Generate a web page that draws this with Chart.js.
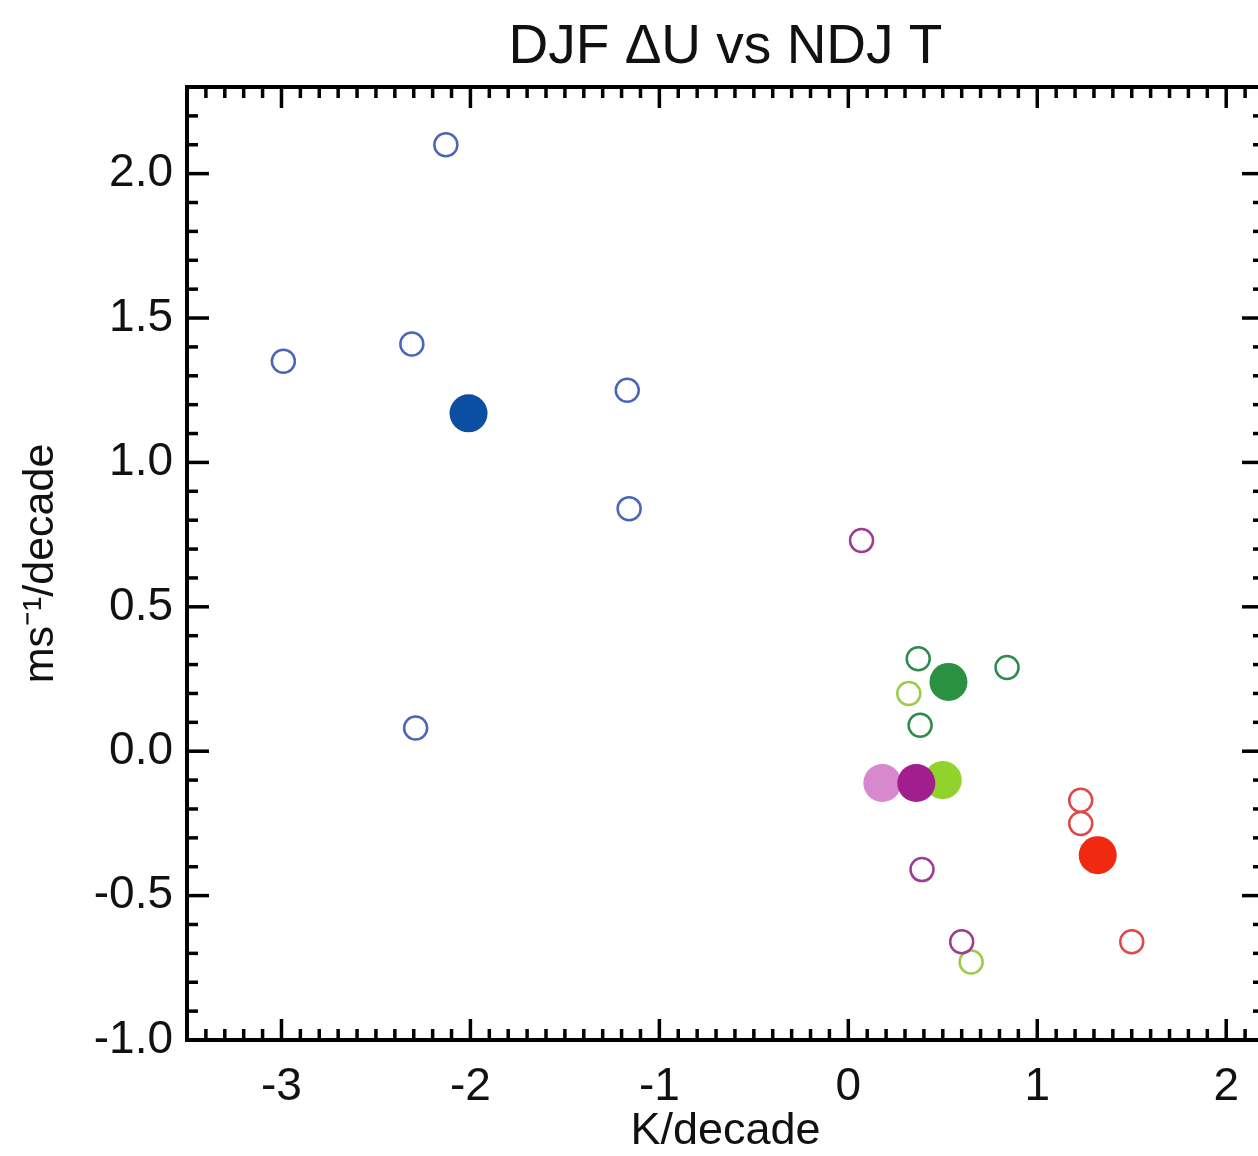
<!DOCTYPE html>
<html>
<head>
<meta charset="utf-8">
<script src="https://cdn.jsdelivr.net/npm/chart.js@4.4.0/dist/chart.umd.min.js"></script>
<style>
html, body { margin: 0; padding: 0; background: #fff; overflow: hidden; width: 1258px; height: 1156px; }
#wrap { width: 1290px; height: 1156px; }
</style>
</head>
<body>
<div id="wrap"><canvas id="c" width="1290" height="1156"></canvas></div>
<script>
// ---- data ----
const xTickValues = [-3, -2, -1, 0, 1, 2];
const yTickValues = [-1.0, -0.5, 0.0, 0.5, 1.0, 1.5, 2.0];

const blueOpenX = [-2.13, -2.99, -2.31, -1.17, -1.16, -2.29];
const blueOpenY = [2.10, 1.35, 1.41, 1.25, 0.84, 0.08];
const blueMeanX = [-2.01];
const blueMeanY = [1.17];

const darkGreenOpenX = [0.37, 0.84, 0.38];
const darkGreenOpenY = [0.32, 0.29, 0.09];
const darkGreenMeanX = [0.53];
const darkGreenMeanY = [0.24];

const lightGreenOpenX = [0.32, 0.65];
const lightGreenOpenY = [0.20, -0.73];
const lightGreenMeanX = [0.50];
const lightGreenMeanY = [-0.10];

const purpleOpenX = [0.07, 0.39, 0.60];
const purpleOpenY = [0.73, -0.41, -0.66];
const purpleMeanX = [0.36];
const purpleMeanY = [-0.11];

const pinkMeanX = [0.18];
const pinkMeanY = [-0.11];

const redOpenX = [1.23, 1.23, 1.50];
const redOpenY = [-0.17, -0.25, -0.66];
const redMeanX = [1.32];
const redMeanY = [-0.36];

const xRange = [-3.5, 2.2];
const yRange = [-1.0, 2.3];
const xMinorStep = 0.1;
const yMinorStep = 0.1;

function pts(xs, ys) { return xs.map((v, i) => ({ x: v, y: ys[i] })); }

function openSet(label, xs, ys, color, order) {
  return { label, data: pts(xs, ys), pointRadius: 11.5, pointHoverRadius: 11.5,
    pointBackgroundColor: 'rgba(0,0,0,0)', pointBorderColor: color, pointBorderWidth: 2.5,
    showLine: false, order };
}
function meanSet(label, xs, ys, color, order) {
  return { label, data: pts(xs, ys), pointRadius: 19, pointHoverRadius: 19,
    pointBackgroundColor: color, pointBorderColor: color, pointBorderWidth: 0,
    showLine: false, order };
}

const FONT = "'Liberation Sans', Helvetica, Arial, sans-serif";

const boxTicks = {
  id: 'boxTicks',
  beforeDatasetsDraw(chart) {
    const { ctx, chartArea: { left, right, top, bottom }, scales: { x, y } } = chart;
    ctx.save();
    ctx.strokeStyle = '#000';
    ctx.lineCap = 'butt';
    const line = (a, b, c, d) => { ctx.beginPath(); ctx.moveTo(a, b); ctx.lineTo(c, d); ctx.stroke(); };
    ctx.lineWidth = 3.5;
    const nx0 = Math.ceil(xRange[0] / xMinorStep - 1e-6), nx1 = Math.floor(xRange[1] / xMinorStep + 1e-6);
    for (let i = nx0; i <= nx1; i++) {
      const v = i * xMinorStep;
      const px = x.getPixelForValue(v);
      const len = (i % 10 === 0) ? 21 : 11;
      line(px, bottom, px, bottom - len);
      line(px, top, px, top + len);
    }
    const ny0 = Math.ceil(yRange[0] / yMinorStep - 1e-6), ny1 = Math.floor(yRange[1] / yMinorStep + 1e-6);
    for (let i = ny0; i <= ny1; i++) {
      const v = i * yMinorStep;
      const py = y.getPixelForValue(v);
      const len = (i % 5 === 0) ? 22 : 11;
      line(left, py, left + len, py);
      line(right, py, right - len, py);
    }
    ctx.lineWidth = 4;
    ctx.strokeRect(left, top, right - left, bottom - top);
    ctx.restore();
  }
};

new Chart(document.getElementById('c'), {
  type: 'scatter',
  data: {
    datasets: [
      openSet('blue members', blueOpenX, blueOpenY, '#4a66b8', 20),
      openSet('dark green members', darkGreenOpenX, darkGreenOpenY, '#2f8a4c', 19),
      openSet('light green members', lightGreenOpenX, lightGreenOpenY, '#98cc4a', 18),
      openSet('purple members', purpleOpenX, purpleOpenY, '#a03a92', 17),
      openSet('red members', redOpenX, redOpenY, '#e04848', 16),
      meanSet('blue mean', blueMeanX, blueMeanY, '#0b4ea2', 6),
      meanSet('dark green mean', darkGreenMeanX, darkGreenMeanY, '#2a9142', 5),
      meanSet('light green mean', lightGreenMeanX, lightGreenMeanY, '#92d22c', 4),
      meanSet('pink mean', pinkMeanX, pinkMeanY, '#d888cc', 3),
      meanSet('purple mean', purpleMeanX, purpleMeanY, '#a21e8e', 2),
      meanSet('red mean', redMeanX, redMeanY, '#f02a10', 1)
    ]
  },
  options: {
    responsive: false,
    animation: false,
    devicePixelRatio: 1,
    layout: { padding: { left: 0, right: 26, top: 0, bottom: 0 } },
    plugins: {
      legend: { display: false },
      tooltip: { enabled: false },
      title: {
        display: true,
        text: 'DJF \u0394U vs NDJ T',
        fullSize: false,
        color: '#111',
        font: { family: FONT, size: 55, weight: 'normal', lineHeight: 1.2 },
        padding: { top: 15, bottom: 6 }
      }
    },
    scales: {
      x: {
        type: 'linear',
        min: xRange[0], max: xRange[1],
        grid: { display: false, drawTicks: false },
        border: { display: false },
        afterBuildTicks: (s) => { s.ticks = xTickValues.map(v => ({ value: v })); },
        afterFit: (s) => { s.height = 116; },
        ticks: {
          color: '#111', padding: 20, maxRotation: 0,
          font: { family: FONT, size: 46 },
          callback: (v) => String(v)
        },
        title: {
          display: true, text: 'K/decade', color: '#111',
          font: { family: FONT, size: 45, lineHeight: 1 },
          padding: { top: 0, bottom: 2 }
        }
      },
      y: {
        type: 'linear',
        min: yRange[0], max: yRange[1],
        grid: { display: false, drawTicks: false },
        border: { display: false },
        afterBuildTicks: (s) => { s.ticks = yTickValues.map(v => ({ value: v })); },
        afterFit: (s) => { s.width = 187; },
        ticks: {
          color: '#111', padding: 14,
          font: { family: FONT, size: 46 },
          callback: (v) => Number(v).toFixed(1)
        },
        title: {
          display: true, text: 'ms\u207B\u00B9/decade', color: '#111',
          font: { family: FONT, size: 43, lineHeight: 1 },
          padding: { top: 20, bottom: 0 }
        }
      }
    }
  },
  plugins: [boxTicks]
});
</script>
</body>
</html>
